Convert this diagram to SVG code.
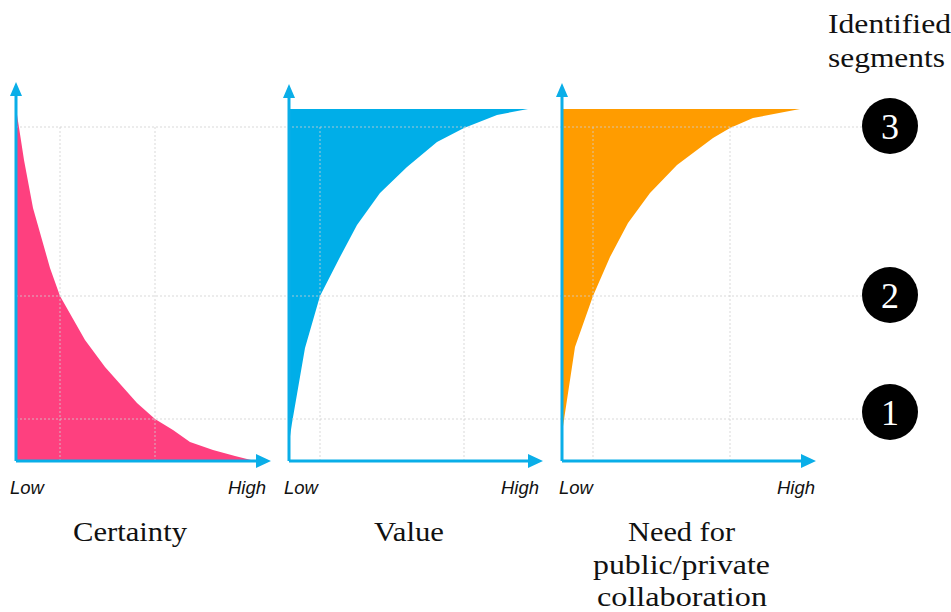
<svg xmlns="http://www.w3.org/2000/svg" width="951" height="612" viewBox="0 0 951 612">
<style>
.axis{stroke:#0aaee8;stroke-width:3;fill:none}
.head{fill:#0aaee8}
.grid{stroke:#cfcfcf;stroke-width:1;stroke-dasharray:2 2;fill:none;opacity:0.8}
.lh{font-family:"Liberation Sans",Arial,sans-serif;font-style:italic;font-size:18.5px;fill:#111}
.ttl{font-family:"Liberation Serif","Times New Roman",serif;font-size:28px;fill:#111}
.num{font-family:"Liberation Serif","Times New Roman",serif;font-size:36px;fill:#fff;text-anchor:middle}
</style>
<rect width="951" height="612" fill="#fff"/>
<g id="chart-certainty">
<path d="M16,108 L24,160 L33,208 L50,268 L60,296 L85,340 L105,367 L137,403 L155,419 L173,430 L190,442 L213,450 L235,456 L255,461 L16,461 Z" fill="#fe407f"/>
</g>
<g id="chart-value">
<path d="M289,109 L528,109 L497,115 L464,128 L437,142 L407,167 L380,193 L357,225 L340,257 L320,296 L305,348 L292,423 L289,443 Z" fill="#00aee8"/>
</g>
<g id="chart-collab">
<path d="M562,109 L800,109 L753,118 L730,128 L713,138 L677,165 L650,193 L628,223 L610,257 L593,296 L575,347 L565,413 L562,433 Z" fill="#ff9c00"/>
</g>
<g id="grid">
<path class="grid" d="M16,127 H862 M16,296 H862 M16,419 H862"/>
<path class="grid" d="M60,127 V461 M155,127 V461 M320,127 V461 M464,127 V461 M593,127 V461 M730,127 V461"/>
</g>
<g id="connectors">
<path class="axis" d="M16,461 V94 M16,461 H258"/>
<path class="head" d="M16,82 L10,96 L22,96 Z M271,461 L256,454 L256,468 Z"/>
<path class="axis" d="M289,461 V96 M289,461 H530"/>
<path class="head" d="M289,84 L283,98 L295,98 Z M543,461 L528,454 L528,468 Z"/>
<path class="axis" d="M562,461 V95 M562,461 H803"/>
<path class="head" d="M562,83 L556,97 L568,97 Z M816,461 L801,454 L801,468 Z"/>
</g>
<g id="axis-labels">
<text class="lh" x="10" y="494">Low</text>
<text class="lh" x="266" y="494" text-anchor="end">High</text>
<text class="lh" x="284" y="494">Low</text>
<text class="lh" x="539" y="494" text-anchor="end">High</text>
<text class="lh" x="559" y="494">Low</text>
<text class="lh" x="815" y="494" text-anchor="end">High</text>
</g>
<g id="titles">
<text class="ttl" x="73" y="541" textLength="114" lengthAdjust="spacingAndGlyphs">Certainty</text>
<text class="ttl" x="374" y="541" textLength="70" lengthAdjust="spacingAndGlyphs">Value</text>
<text class="ttl" x="628" y="541" textLength="107" lengthAdjust="spacingAndGlyphs">Need for</text>
<text class="ttl" x="593" y="574" textLength="177" lengthAdjust="spacingAndGlyphs">public/private</text>
<text class="ttl" x="597" y="606" textLength="170" lengthAdjust="spacingAndGlyphs">collaboration</text>
<text class="ttl" x="828" y="33" textLength="123" lengthAdjust="spacingAndGlyphs">Identified</text>
<text class="ttl" x="828" y="67" textLength="117" lengthAdjust="spacingAndGlyphs">segments</text>
</g>
<g id="seg-3"><circle cx="890" cy="126" r="28" fill="#000"/><text class="num" x="890" y="139">3</text></g>
<g id="seg-2"><circle cx="890" cy="295" r="28" fill="#000"/><text class="num" x="890" y="308">2</text></g>
<g id="seg-1"><circle cx="890" cy="412" r="28" fill="#000"/><text class="num" x="890" y="425">1</text></g>
</svg>
